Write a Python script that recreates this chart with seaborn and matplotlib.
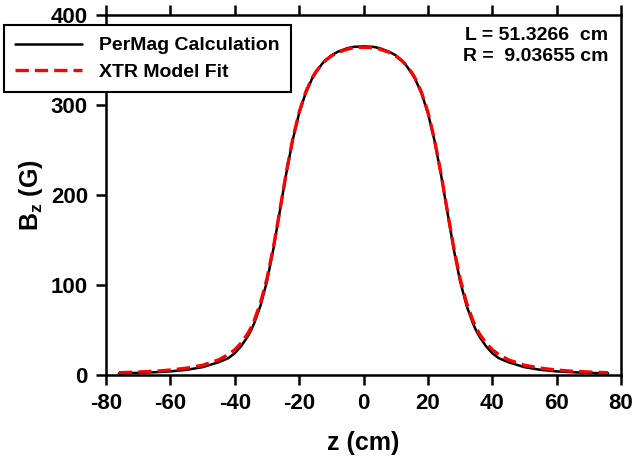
import numpy as np
import pandas as pd
import matplotlib
matplotlib.use("Agg")
import matplotlib.pyplot as plt
import seaborn as sns

# field profile (z in cm, Bz in G)
z_cm = [-76, -70, -65, -60, -55, -50, -45, -42, -40, -38, -36, -35, -34, -32, -30, -28, -26,
        -24, -22, -20, -18, -16, -15, -13, -12, -10, -8, -5, -3, 0,
        3, 5, 8, 10, 12, 13, 15, 16, 18, 20, 22, 24, 26, 28, 30, 32, 34, 35, 36, 38, 40, 42, 45,
        50, 55, 60, 65, 70, 76]
permag = [1.6, 2.1, 2.8, 3.8, 5.5, 8.5, 14, 18.5, 24, 32, 42.5, 49, 57, 77, 104, 140, 182,
          224, 261, 291, 313, 329, 335, 345, 349, 355, 359, 363, 364.5, 365,
          364.5, 363, 359, 355, 349, 345, 335, 329, 313, 291, 261, 224, 182, 140, 104, 77, 57, 49, 42.5, 32, 24, 18.5, 14,
          8.5, 5.5, 3.8, 2.8, 2.1, 1.6]
xtr_fit = [2.3, 3.1, 3.9, 5.3, 7.4, 10.6, 16.6, 22.5, 27.9, 35.4, 45.6, 52.1, 60.0, 79.9, 107.0, 141.9, 182.9,
           224.9, 262.1, 291.9, 313.9, 329.7, 335.8, 345.1, 348.8, 354.4, 358.3, 362.0, 363.5, 364.0,
           363.5, 362.0, 358.3, 354.4, 348.8, 345.1, 335.8, 329.7, 313.9, 291.9, 262.1, 224.9, 182.9, 141.9, 107.0, 79.9, 60.0, 52.1, 45.6, 35.4, 27.9, 22.5, 16.6,
           10.6, 7.4, 5.3, 3.9, 3.1, 2.3]

df = pd.DataFrame({"z": z_cm, "permag": permag, "xtr": xtr_fit})

sns.set_style("ticks")
plt.rcParams["font.family"] = ["Liberation Sans", "DejaVu Sans"]
plt.rcParams["font.weight"] = "bold"
plt.rcParams["axes.unicode_minus"] = False
plt.rcParams["text.color"] = "black"
plt.rcParams["axes.labelcolor"] = "black"
plt.rcParams["xtick.color"] = "black"
plt.rcParams["ytick.color"] = "black"
plt.rcParams["axes.edgecolor"] = "black"
plt.rcParams["mathtext.fontset"] = "custom"
plt.rcParams["mathtext.rm"] = "Liberation Sans:bold"
plt.rcParams["mathtext.bf"] = "Liberation Sans:bold"
plt.rcParams["mathtext.it"] = "Liberation Sans:bold"

fig = plt.figure(figsize=(6.35, 4.65), dpi=100)
ax = fig.add_axes([0.167, 0.194, 0.811, 0.774])

sns.lineplot(data=df, x="z", y="permag", ax=ax, color="black", lw=1.8,
             label="PerMag Calculation", legend=False)
sns.lineplot(data=df, x="z", y="xtr", ax=ax, color="#ff0000", lw=2.4,
             label="XTR Model Fit", legend=False)
ax.lines[1].set_dashes([4, 1.8])

ax.set_xlim(-80, 80)
ax.set_ylim(0, 400)
ax.set_xticks(np.arange(-80, 81, 20))
ax.set_yticks(np.arange(0, 401, 100))
ax.set_xlabel("z (cm)", fontsize=18, fontweight="bold", labelpad=12)
ax.set_ylabel(r"B$_\mathrm{z}$ (G)", fontsize=18, fontweight="bold", labelpad=4)

for s in ax.spines.values():
    s.set_linewidth(1.8)
ax.tick_params(axis="both", direction="out", length=7, width=1.8,
               labelsize=16, pad=6)
ax.tick_params(axis="x", top=True)
for lab in ax.get_xticklabels() + ax.get_yticklabels():
    lab.set_fontweight("bold")

ax.text(0.975, 0.965, "L = 51.3266  cm\nR =  9.03655 cm", transform=ax.transAxes,
        ha="right", va="top", fontsize=14, fontweight="bold", linespacing=1.3)

handles, labels = ax.get_legend_handles_labels()
leg = fig.legend(handles, labels, loc="upper left", bbox_to_anchor=(0.006, 0.946),
                 fontsize=14, frameon=True, fancybox=False, edgecolor="black",
                 handlelength=3.4, handletextpad=0.9, borderpad=0.6, labelspacing=0.45,
                 borderaxespad=0)
leg.get_frame().set_linewidth(1.5)
leg.get_frame().set_alpha(1)
for t in leg.get_texts():
    t.set_fontweight("bold")

fig.savefig("out.png", dpi=100)
